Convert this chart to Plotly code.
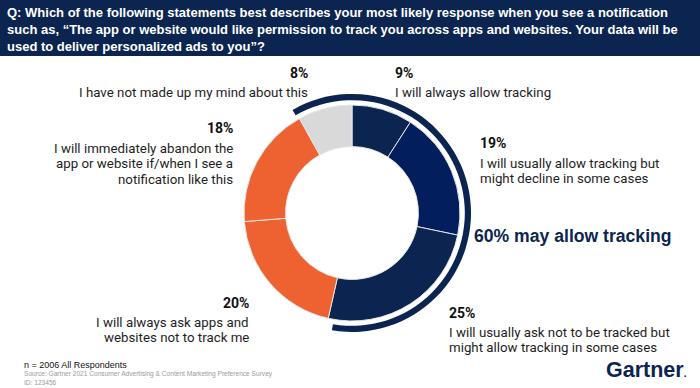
import plotly.graph_objects as go

W, H = 700, 388

# ---- data ----
categories = [
    "I will always allow tracking",
    "I will usually allow tracking but might decline in some cases",
    "I will usually ask not to be tracked but might allow tracking in some cases",
    "I will always ask apps and websites not to track me",
    "I will immediately abandon the app or website if/when I see a notification like this",
    "I have not made up my mind about this",
]
values = [9, 19, 25, 20, 18, 8]
pct_labels = ["9%", "19%", "25%", "20%", "18%", "8%"]
colors = ["#0B2550", "#021E5C", "#0B2550", "#EE6130", "#EE6130", "#D9D9D9"]
allow_count = 3  # first three categories "may allow tracking"
callout_text = "60% may allow tracking"

title_text = ("Q: Which of the following statements best describes your most likely response when you see a notification<br>"
              "such as, \u201cThe app or website would like permission to track you across apps and websites. Your data will be<br>"
              "used to deliver personalized ads to you\u201d?")

NAVY = "#0B2550"


def px(x):
    return x / W


def py(y):
    return 1 - y / H


def domain(cx, cy, r):
    return dict(x=[px(cx - r), px(cx + r)], y=[py(cy + r), py(cy - r)])


CX, CY, R = 352, 213, 108

fig = go.Figure()

fig.add_trace(go.Pie(
    labels=categories, values=values, sort=False, direction="clockwise", rotation=0,
    hole=0.615, marker=dict(colors=colors, line=dict(color="#E6E6E6", width=1)),
    textinfo="none", hoverinfo="label+percent", showlegend=False,
    domain=domain(CX, CY, R),
))

# outline arc around the "allow" group
total = sum(values)
allow_deg = sum(values[:allow_count]) / total * 360
lead_deg = 30
arc_deg = lead_deg + allow_deg - 3
fig.add_trace(go.Pie(
    values=[arc_deg, 360 - arc_deg], sort=False, direction="clockwise", rotation=-lead_deg,
    hole=0.948, marker=dict(colors=[NAVY, "rgba(0,0,0,0)"], line=dict(width=0)),
    textinfo="none", hoverinfo="skip", showlegend=False,
    domain=domain(CX, CY, 119),
))

shapes = [dict(type="rect", xref="paper", yref="paper", x0=0, x1=1, y0=py(56), y1=1,
               fillcolor=NAVY, line=dict(width=0), layer="below")]

ann = []


def add_text(text, x, y, anchor, size=13.3, bold=False, color="#1E1E1E", family="Roboto"):
    ann.append(dict(text=f"<b>{text}</b>" if bold else text, x=px(x), y=py(y), xref="paper", yref="paper",
                    xanchor=anchor, yanchor="middle", showarrow=False,
                    font=dict(family=family, size=size, color=color)))


label_lines = [
    ["I will always allow tracking"],
    ["I will usually allow tracking but", "might decline in some cases"],
    ["I will usually ask not to be tracked but", "might allow tracking in some cases"],
    ["I will always ask apps and", "websites not to track me"],
    ["I will immediately abandon the", "app or website if/when I see a", "notification like this"],
    ["I have not made up my mind about this"],
]
label_pos = [
    (393, "left", 73, 92),
    (478, "left", 143, 163),
    (447, "left", 313, 332),
    (251, "right", 303, 322),
    (235, "right", 128, 148),
    (310, "right", 73, 92),
]
for i, (x, anc, yp, y0) in enumerate(label_pos):
    add_text(pct_labels[i], x, yp, anc, size=14, bold=True, color="#111111")
    for j, line in enumerate(label_lines[i]):
        add_text(line, x, y0 + j * 15.5, anc)

add_text(callout_text, 472, 236, "left", size=17.6, bold=True, color=NAVY, family="Arial")

ann.append(dict(text=f"<b>{title_text}</b>", x=px(5), y=py(30), xref="paper", yref="paper",
                xanchor="left", yanchor="middle", align="left", showarrow=False,
                font=dict(family="Arial", size=13, color="white")))

add_text("n = 2006 All Respondents", 22, 365, "left", size=9, color="#111111", family="Arial")
add_text("Source: Gartner 2021 Consumer Advertising &amp; Content Marketing Preference Survey", 22, 374, "left",
         size=6.6, color="#9A9A9A", family="Arial")
add_text("ID: 123456", 22, 382, "left", size=6.6, color="#9A9A9A", family="Arial")
add_text("Gartner<span style='font-size:10px'>.</span>", 604, 370, "left", size=21.5, bold=True, color=NAVY, family="Arial")

fig.update_layout(width=W, height=H, margin=dict(l=0, r=0, t=0, b=0),
                  paper_bgcolor="white", plot_bgcolor="white",
                  shapes=shapes, annotations=ann, showlegend=False)

fig.write_html("out.html", config={"displayModeBar": False},
               post_script="document.body.style.margin='0';document.body.style.overflow='hidden';")
